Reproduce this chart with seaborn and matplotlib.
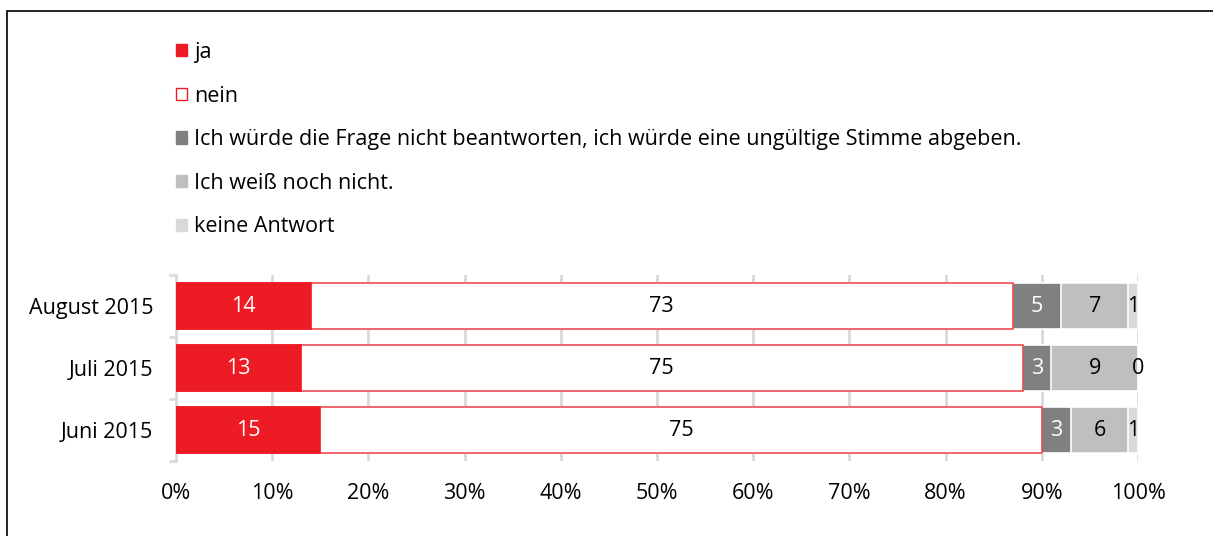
import numpy as np
import pandas as pd
import seaborn as sns
import matplotlib.pyplot as plt
from matplotlib.patches import Patch, Rectangle

# data
months = ["August 2015", "Juli 2015", "Juni 2015"]
labels = ["ja", "nein",
          "Ich würde die Frage nicht beantworten, ich würde eine ungültige Stimme abgeben.",
          "Ich weiß noch nicht.", "keine Antwort"]
ja = [14, 13, 15]
nein = [73, 75, 75]
ungueltig = [5, 3, 3]
weiss_nicht = [7, 9, 6]
keine_antwort = [1, 0, 1]
x_ticks = [0, 10, 20, 30, 40, 50, 60, 70, 80, 90, 100]

RED = "#ED1C24"
fills = [RED, "white", "#808080", "#BFBFBF", "#D9D9D9"]
edges = [RED, "#EE4B52", "white", "white", "white"]
text_colors = ["white", "black", "white", "black", "black"]

sns.set_theme(style="white")
plt.rcParams["font.family"] = ["Open Sans", "DejaVu Sans"]
plt.rcParams["text.color"] = "black"
plt.rcParams["xtick.color"] = "black"
plt.rcParams["ytick.color"] = "black"

FS = 15.5

fig = plt.figure(figsize=(12.13, 5.36), dpi=100)
ax = fig.add_axes([176 / 1213, 1 - 461 / 536, 962 / 1213, 186 / 536])

series = [ja, nein, ungueltig, weiss_nicht, keine_antwort]
cum = np.cumsum(np.array(series), axis=0)

# stacked bars: draw cumulative totals from the back to the front
for i in reversed(range(len(series))):
    df = pd.DataFrame({"month": months, "value": cum[i]})
    sns.barplot(data=df, x="value", y="month", orient="y", color=fills[i],
                saturation=1, width=0.74, edgecolor=edges[i], linewidth=1.2,
                ax=ax, zorder=3)

# value labels in the middle of each segment
for i, vals in enumerate(series):
    start = cum[i] - np.array(vals)
    for j, v in enumerate(vals):
        ax.text(start[j] + v / 2, j, str(v), ha="center", va="center",
                color=text_colors[i], fontsize=FS, zorder=5)

ax.set_xlim(0, 100)
ax.set_ylim(2.5, -0.5)
ax.set_xticks(x_ticks)
ax.set_xticklabels([f"{t}%" for t in x_ticks])
ax.set_xlabel("")
ax.set_ylabel("")
ax.xaxis.grid(True, color="#D9D9D9", linewidth=2)
ax.set_axisbelow(True)
for s in ["top", "right", "bottom"]:
    ax.spines[s].set_visible(False)
ax.spines["left"].set_color("#D9D9D9")
ax.spines["left"].set_linewidth(2)
ax.set_yticks([-0.5, 0.5, 1.5, 2.5], minor=True)
ax.tick_params(axis="y", which="minor", length=5, width=2, color="#D9D9D9", left=True)
ax.tick_params(axis="y", which="major", length=0, pad=16.5, labelsize=FS)
ax.tick_params(axis="x", length=0, pad=16, labelsize=FS)

# legend in the upper part of the frame
handles = [Patch(facecolor=fills[i], edgecolor=RED if i < 2 else fills[i], linewidth=1)
           for i in range(len(labels))]
fig.legend(handles, labels, loc="upper left", bbox_to_anchor=(176 / 1213, 1 - 42 / 536),
           frameon=False, fontsize=FS, handlelength=0.5, handleheight=0.5,
           handletextpad=0.35, labelspacing=1.05, borderpad=0, borderaxespad=0)

# outer frame
fig.patches.append(Rectangle((7 / 1213, -0.1), 1.2, 1 - 11 / 536 + 0.1,
                             transform=fig.transFigure, fill=False,
                             edgecolor="black", linewidth=1.2))

fig.savefig("out.png", dpi=100)
